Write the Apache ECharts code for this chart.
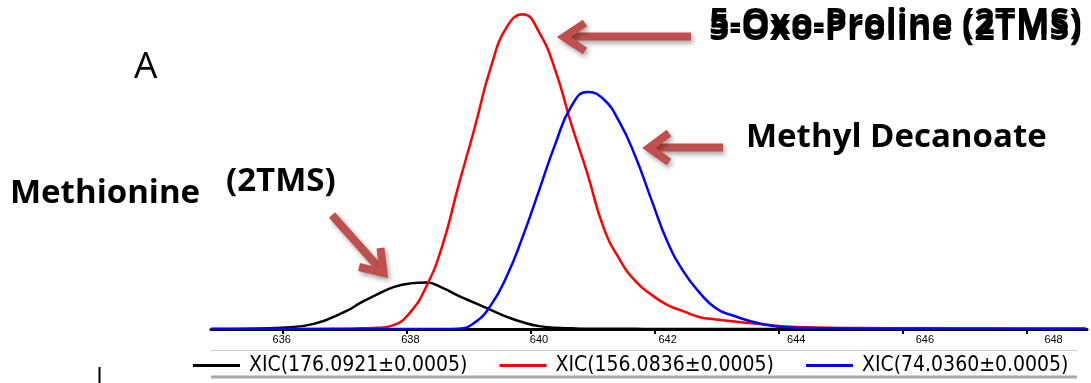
<!DOCTYPE html>
<html>
<head>
<meta charset="utf-8">
<script src="https://cdn.jsdelivr.net/npm/echarts@6/dist/echarts.min.js"></script>
<style>
html,body{margin:0;padding:0;background:#fff;}
#chart{width:1091px;height:383px;}
</style>
</head>
<body>
<div id="chart"></div>
<script>
// retention time (min) sample positions
const rt = [634.9, 635, 635.5, 636, 636.5, 637, 637.25, 637.5, 637.75, 638, 638.25, 638.5, 638.75,
  639, 639.25, 639.5, 639.75, 640, 640.25, 640.5, 640.75, 641, 641.25, 641.5, 641.75, 642,
  642.25, 642.5, 642.75, 643, 643.5, 644, 644.5, 645, 646, 647, 648, 648.5];
// XIC(176.0921±0.0005) - Methionine (2TMS)
const xic176 = [0, 0, 0.1, 0.4, 1.6, 5.6, 8.5, 11.0, 13.2, 14.3, 14.6, 12.9, 10.4,
  8.2, 6.0, 3.8, 2.1, 0.9, 0.4, 0.2, 0.1, 0.1, 0.05, 0.05, 0, 0,
  0, 0, 0, 0, 0, 0, 0, 0, 0, 0, 0, 0];
// XIC(156.0836±0.0005) - 5-Oxo-Proline (2TMS)
const xic156 = [0, 0, 0, 0, 0, 0.1, 0.2, 0.4, 1.3, 5.3, 13.4, 26.3, 45.1,
  63.1, 82.0, 94.7, 98.7, 93.1, 81.3, 64.4, 48.9, 32.0, 21.9, 15.0, 10.7, 7.5,
  5.5, 3.7, 3.0, 2.4, 1.4, 0.6, 0.4, 0.3, 0.2, 0.15, 0.1, 0.1];
// XIC(74.0360±0.0005) - Methyl Decanoate
const xic74 = [0, 0, 0, 0, 0, 0, 0, 0, 0, 0, 0, 0, 0.1,
  2.0, 7.4, 16.6, 29.1, 43.4, 57.8, 69.7, 74.3, 72.1, 64.9, 54.0, 40.4, 27.2,
  17.9, 11.3, 6.5, 4.3, 1.4, 0.4, 0.2, 0.1, 0.05, 0.05, 0.05, 0.05];
const seriesNames = ['XIC(176.0921±0.0005)', 'XIC(156.0836±0.0005)', 'XIC(74.0360±0.0005)'];
const seriesColors = ['#000000', '#ff0000', '#0000ff'];
const tickValues = [636, 638, 640, 642, 644, 646, 648];

const chart = echarts.init(document.getElementById('chart'));
const allVals = [xic176, xic156, xic74];
const series = allVals.map((vals, i) => ({
  name: seriesNames[i],
  type: 'line',
  xAxisIndex: 0,
  data: rt.map((x, j) => [x, vals[j]]),
  showSymbol: false,
  symbol: 'none',
  smooth: 0.5,
  lineStyle: { color: seriesColors[i], width: 2.5 },
  itemStyle: { color: seriesColors[i] },
  z: 3 + i
}));

const arrowStyle = {
  stroke: '#C0504D', lineWidth: 8, fill: null, lineJoin: 'miter',
  shadowBlur: 5, shadowColor: 'rgba(0,0,0,0.35)', shadowOffsetX: 2, shadowOffsetY: 3
};
function arrowParts(shaft, head) {
  return [
    { type: 'polyline', shape: { points: shaft }, style: Object.assign({}, arrowStyle, { lineCap: 'butt' }), z: 10 },
    { type: 'polyline', shape: { points: head }, style: Object.assign({}, arrowStyle), z: 10 }
  ];
}
const ff = '"Open Sans", "Noto Sans", sans-serif';
const boldFont = 'bold 33px ' + ff;

const option = {
  animation: false,
  backgroundColor: '#ffffff',
  grid: { left: 211, right: 4, top: 10, bottom: 54, containLabel: false },
  xAxis: [
    {
      type: 'value', min: 634.9, max: 648.52, position: 'bottom',
      axisLine: { show: true, lineStyle: { color: '#000', width: 3 } },
      axisTick: { show: false },
      splitLine: { show: false },
      axisLabel: {
        customValues: tickValues, margin: 5,
        fontFamily: 'Liberation Sans, Arial, sans-serif', fontSize: 11, color: '#000'
      }
    },
    {
      type: 'value', min: 634.839, max: 648.968, position: 'bottom',
      axisLine: { show: false },
      axisTick: { show: true, customValues: tickValues, length: 5, lineStyle: { color: '#000', width: 2 } },
      axisLabel: { show: false },
      splitLine: { show: false }
    }
  ],
  yAxis: {
    type: 'value', min: 0, max: 100,
    show: false, splitLine: { show: false }
  },
  legend: {
    left: 193, top: 355, itemWidth: 47, itemHeight: 3, itemGap: 32,
    icon: 'rect', padding: 0,
    data: seriesNames,
    textStyle: { fontFamily: '"Liberation Sans Narrow", "DejaVu Sans Condensed", sans-serif', fontSize: 21, color: '#000', padding: [0, 0, 0, 4] }
  },
  series: series,
  graphic: [
    { type: 'line', shape: { x1: 211, y1: 350.5, x2: 1077, y2: 350.5 }, style: { stroke: '#c8c8c8', lineWidth: 1 }, z: 0 },
    { type: 'line', shape: { x1: 211, y1: 377, x2: 1077, y2: 377 }, style: { stroke: '#a8a8a8', lineWidth: 3 }, z: 0 },
    { type: 'line', shape: { x1: 99.5, y1: 367, x2: 99.5, y2: 383 }, style: { stroke: '#000', lineWidth: 2 }, z: 0 },
    { type: 'text', x: 134, y: 67, style: { text: 'A', font: '37px ' + ff, fill: '#000', align: 'left', verticalAlign: 'middle' }, z: 10 },
    { type: 'text', x: 709, y: 24, style: { text: '5-Oxo-Proline (2TMS)', font: 'bold 36px ' + ff, fill: '#000', align: 'left', verticalAlign: 'middle' }, z: 10 },
    { type: 'text', x: 709, y: 30, style: { text: '5-Oxo-Proline (2TMS)', font: 'bold 36px ' + ff, fill: '#000', align: 'left', verticalAlign: 'middle' }, z: 10 },
    { type: 'text', x: 746, y: 138, style: { text: 'Methyl Decanoate', font: boldFont, fill: '#000', align: 'left', verticalAlign: 'middle' }, z: 10 },
    { type: 'text', x: 10, y: 194, style: { text: 'Methionine', font: boldFont, fill: '#000', align: 'left', verticalAlign: 'middle' }, z: 10 },
    { type: 'text', x: 226, y: 182, style: { text: '(2TMS)', font: 'bold 33px ' + ff, fill: '#000', align: 'left', verticalAlign: 'middle' }, z: 10 }
  ]
    .concat(arrowParts([[566, 36.5], [691, 36.5]], [[585, 23], [564, 37], [585, 51]]))
    .concat(arrowParts([[651, 147.5], [723, 147.5]], [[669, 133], [649, 148], [669, 162]]))
    .concat(arrowParts([[332, 215], [381, 270]], [[359, 267], [383.4, 272.8], [380.5, 248]]))
};
chart.setOption(option);
</script>
</body>
</html>
